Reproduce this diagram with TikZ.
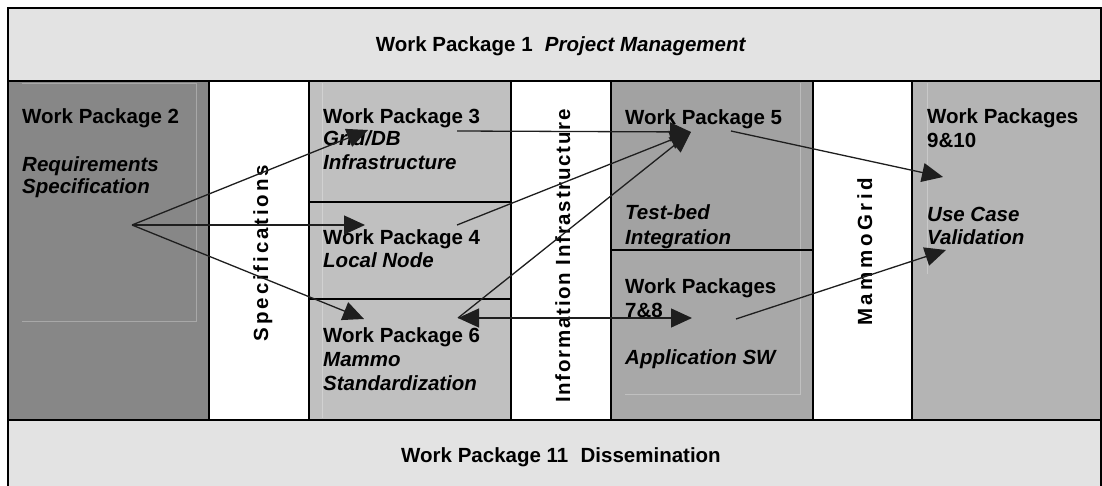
\documentclass[tikz,border=0pt]{standalone}
\usepackage{fontspec}
\setmainfont{Liberation Sans}
\newfontfamily\specfont[LetterSpace=14]{Liberation Sans}
\newfontfamily\infofont[LetterSpace=8.5]{Liberation Sans}
\newfontfamily\mgfont[LetterSpace=17]{Liberation Sans}
\usetikzlibrary{arrows.meta}
\definecolor{bandgray}{HTML}{E3E3E3}
\definecolor{wptwo}{HTML}{878787}
\definecolor{wpthree}{HTML}{C0C0C0}
\definecolor{wpfive}{HTML}{A2A2A2}
\definecolor{wpseven}{HTML}{A8A8A8}
\definecolor{wpnine}{HTML}{B4B4B4}
\definecolor{arrowcol}{HTML}{1E1E1E}
\tikzset{
  border/.style={line width=1.1pt},
  faint/.style={draw=white, opacity=0.28, line width=0.8pt},
  lbl/.style={anchor=base west, inner sep=0pt, font=\fontsize{20.5}{24}\selectfont\bfseries},
  ilbl/.style={lbl, font=\fontsize{20.5}{24}\selectfont\bfseries\itshape},
  vlbl/.style={anchor=base, rotate=90, inner sep=0pt},
  arr/.style={draw=arrowcol, line width=1.3pt, -{Triangle[length=21pt,width=19pt]}},
  darr/.style={draw=arrowcol, line width=1.3pt, {Triangle[length=21pt,width=19pt]}-{Triangle[length=21pt,width=19pt]}}
}
\begin{document}
\begin{tikzpicture}[x=1pt,y=-1pt]
\useasboundingbox (0,0) rectangle (1102,486);
% regions
\fill[bandgray] (8,8) rectangle (1101,81);
\fill[bandgray] (8,420) rectangle (1101,490);
\fill[wptwo] (8,81) rectangle (209,420);
\fill[white] (209,81) rectangle (309,420);
\fill[wpthree] (309,81) rectangle (511,420);
\fill[white] (511,81) rectangle (611,420);
\fill[wpfive] (611,81) rectangle (813,250);
\fill[wpseven] (611,250) rectangle (813,420);
\fill[white] (813,81) rectangle (912,420);
\fill[wpnine] (912,81) rectangle (1101,420);
% faint inner lines
\draw[faint] (22,83) -- (196,83) -- (196,321) -- (22,321);
\draw[faint] (322,83) -- (322,418);
\draw[faint] (625,394) -- (800,394) -- (800,83);
\draw[faint] (927,83) -- (927,274);
% borders
\draw[border] (8,8) rectangle (1101,492);
\draw[border] (8,81) -- (1101,81);
\draw[border] (8,420) -- (1101,420);
\draw[border] (209,81) -- (209,420);
\draw[border] (309,81) -- (309,420);
\draw[border] (511,81) -- (511,420);
\draw[border] (611,81) -- (611,420);
\draw[border] (813,81) -- (813,420);
\draw[border] (912,81) -- (912,420);
\draw[border] (309,202) -- (511,202);
\draw[border] (309,299) -- (511,299);
\draw[border] (611,250) -- (813,250);
% titles
\node[anchor=base, inner sep=0pt, font=\fontsize{20.5}{24}\selectfont\bfseries] (wp1) at (561,52) {Work Package 1\hspace{0.6em}\textit{Project Management}};
\node[anchor=base, inner sep=0pt, font=\fontsize{20.5}{24}\selectfont\bfseries] (wp11) at (561,462) {Work Package 11\hspace{0.6em}Dissemination};
% WP2
\node[lbl] (wp2a) at (22,124) {Work Package 2};
\node[ilbl] (wp2b) at (22,172) {Requirements};
\node[ilbl] (wp2c) at (22,194) {Specification};
% WP3
\node[lbl] (wp3a) at (323,124) {Work Package 3};
\node[ilbl] (wp3b) at (323,146) {Grid/DB};
\node[ilbl] (wp3c) at (323,170) {Infrastructure};
% WP4
\node[lbl] (wp4a) at (323,245) {Work Package 4};
\node[ilbl] (wp4b) at (323,268) {Local Node};
% WP6
\node[lbl] (wp6a) at (323,342) {Work Package 6};
\node[ilbl] (wp6b) at (323,366) {Mammo};
\node[ilbl] (wp6c) at (323,390) {Standardization};
% WP5
\node[lbl] (wp5a) at (625,125) {Work Package 5};
\node[ilbl] (wp5b) at (625,220) {Test-bed};
\node[ilbl] (wp5c) at (625,244) {Integration};
% WP7&8
\node[lbl] (wp7a) at (625,293) {Work Packages};
\node[lbl] (wp7b) at (625,317) {7\&8};
\node[ilbl] (wp7c) at (625,364) {Application SW};
% WP9&10
\node[lbl] (wp9a) at (927,124) {Work Packages};
\node[lbl] (wp9b) at (927,148) {9\&10};
\node[ilbl] (wp9c) at (927,222) {Use Case};
\node[ilbl] (wp9d) at (927,245) {Validation};
% vertical labels
\node[vlbl, font=\fontsize{20.5}{24}\specfont\bfseries] (spec) at (268,253) {Specifications};
\node[vlbl, font=\fontsize{20.5}{24}\infofont\bfseries] (info) at (570,256) {Information Infrastructure};
\node[vlbl, font=\fontsize{20.5}{24}\mgfont\bfseries] (mg) at (872,252) {MammoGrid};
% arrow points
\coordinate (src) at (132,225);
\coordinate (t3) at (368,130);
\coordinate (t4) at (365,225);
\coordinate (t6) at (364,319);
\coordinate (s3) at (457,131);
\coordinate (s4) at (457,225);
\coordinate (s6) at (458,318);
\coordinate (t5) at (691,132);
\coordinate (t78) at (692,318);
\coordinate (s5) at (731,131);
\coordinate (t9) at (943,177);
\coordinate (s78) at (736,319);
\coordinate (t10) at (946,250);
% arrows
\draw[arr] (src) -- (t3);
\draw[arr] (src) -- (t4);
\draw[arr] (src) -- (t6);
\draw[arr] (s3) -- (t5);
\draw[arr] (s4) -- (t5);
\draw[arr] (s6) -- (t5);
\draw[darr] (s6) -- (t78);
\draw[arr] (s5) -- (t9);
\draw[arr] (s78) -- (t10);
\end{tikzpicture}
\end{document}
